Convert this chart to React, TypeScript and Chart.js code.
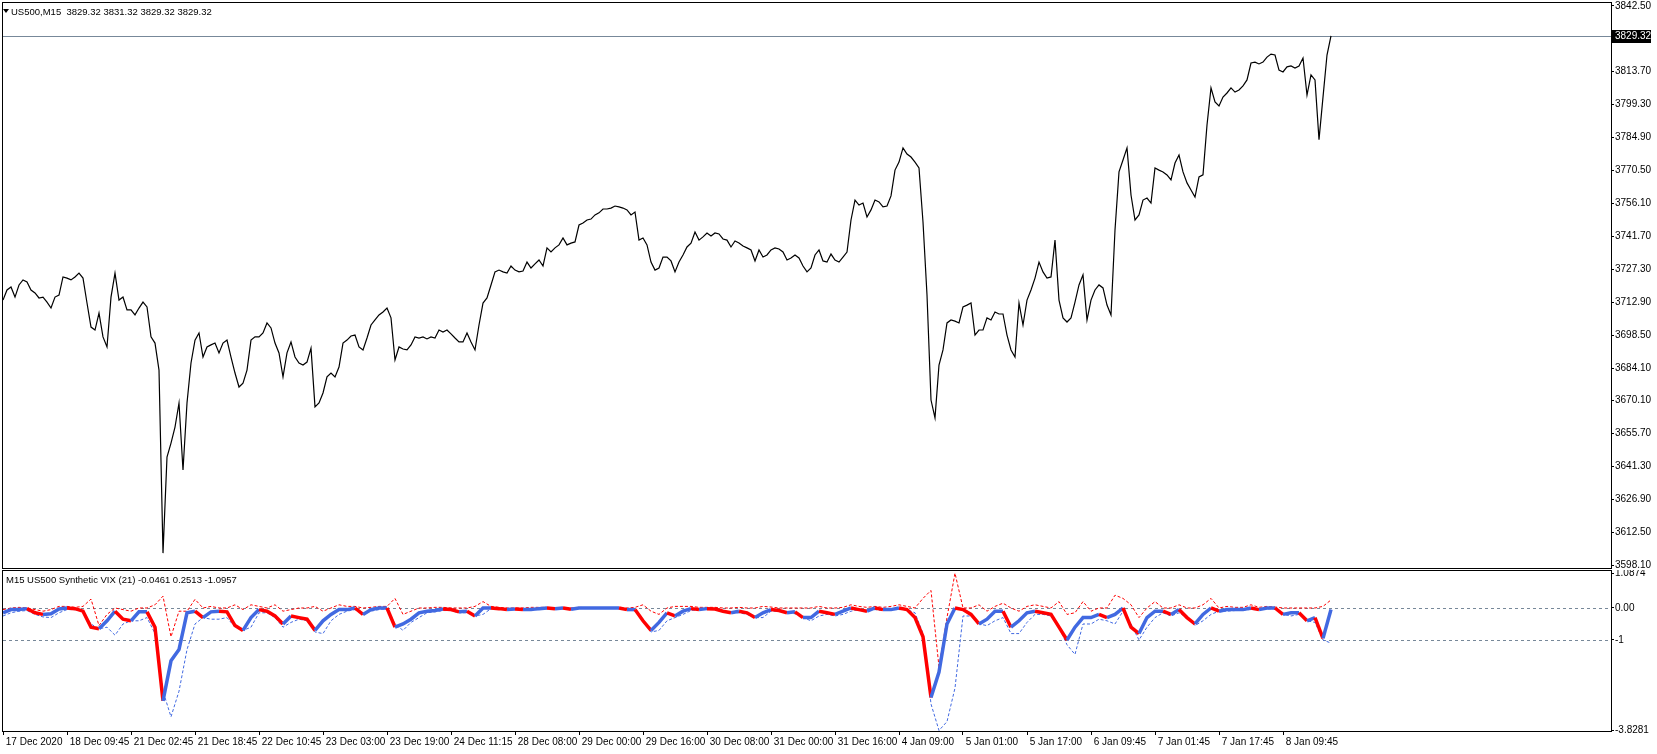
import React, { useEffect, useRef } from 'react';
import { Chart, registerables } from 'chart.js';

Chart.register(...registerables);

// ---------- data ----------
const PRICE_STEP = 4; // M15 bars between price samples
const PRICE: number[] = [
  3713.9, 3718.3, 3719.6, 3715.2, 3720.5, 3722.7, 3721.8, 3718.3, 3717.0, 3714.8,
  3715.2, 3713.0, 3710.4, 3715.2, 3716.1, 3724.0, 3723.5, 3722.7, 3724.0, 3725.7,
  3723.5, 3712.6, 3702.1, 3700.8, 3708.2, 3697.8, 3693.4, 3715.2, 3725.7, 3713.9,
  3715.2, 3709.6, 3709.6, 3707.4, 3710.4, 3713.0, 3710.9, 3697.8, 3695.1, 3683.3,
  3603.3, 3645.3, 3651.4, 3658.4, 3668.9, 3639.6, 3668.9, 3686.4, 3696.4, 3699.5,
  3689.0, 3693.4, 3694.3, 3695.1, 3690.8, 3695.1, 3696.4, 3689.0, 3682.0, 3675.9,
  3677.6, 3683.3, 3696.4, 3697.8, 3697.8, 3699.5, 3703.9, 3701.7, 3695.1, 3690.8,
  3680.3, 3690.8, 3695.6, 3689.0, 3686.4, 3685.5, 3686.8, 3692.9, 3667.2, 3668.9,
  3673.3, 3680.3, 3682.0, 3680.3, 3684.6, 3695.1, 3696.4, 3698.2, 3698.6, 3693.4,
  3692.1, 3697.3, 3703.0, 3705.2, 3707.4, 3708.7, 3710.4, 3706.1, 3687.7, 3693.4,
  3692.5, 3692.1, 3694.3, 3697.8, 3697.3, 3697.8, 3696.9, 3697.8, 3697.3, 3700.8,
  3699.9, 3700.8, 3699.1, 3697.3, 3695.6, 3695.6, 3699.5, 3695.6, 3692.1, 3703.0,
  3712.6, 3714.8, 3720.5, 3726.2, 3727.0, 3726.2, 3725.7, 3728.8, 3727.0, 3726.2,
  3726.6, 3730.5, 3727.9, 3729.7, 3731.4, 3728.8, 3736.7, 3734.9, 3736.7, 3738.0,
  3741.0, 3738.0, 3738.8, 3739.3, 3746.7, 3747.6, 3748.9, 3749.3, 3751.1, 3752.0,
  3753.7, 3753.7, 3754.1, 3755.0, 3754.6, 3754.1, 3753.3, 3751.1, 3752.4, 3740.1,
  3741.0, 3738.0, 3730.5, 3727.0, 3727.9, 3732.7, 3732.7, 3731.0, 3726.2, 3730.5,
  3733.6, 3737.1, 3738.8, 3743.6, 3740.1, 3741.5, 3743.2, 3741.9, 3743.2, 3742.8,
  3740.6, 3740.1, 3737.1, 3739.7, 3738.8, 3737.5, 3736.7, 3735.8, 3731.0, 3735.8,
  3732.7, 3733.6, 3735.8, 3736.7, 3736.2, 3734.9, 3731.4, 3732.3, 3733.6, 3732.3,
  3728.8, 3726.2, 3727.9, 3733.6, 3735.8, 3731.0, 3730.5, 3734.0, 3731.4, 3730.5,
  3732.7, 3734.9, 3748.9, 3757.6, 3755.4, 3756.3, 3750.2, 3753.3, 3757.6, 3756.8,
  3754.6, 3755.0, 3759.4, 3770.7, 3774.2, 3780.4, 3777.7, 3776.4, 3774.2, 3771.6,
  3748.0, 3716.1, 3670.2, 3662.4, 3685.5, 3692.1, 3703.9, 3705.2, 3704.7, 3703.9,
  3710.9, 3711.7, 3712.6, 3698.6, 3700.8, 3700.8, 3706.1, 3705.2, 3708.7, 3707.8,
  3707.8, 3698.6, 3692.1, 3689.0, 3712.6, 3703.0, 3713.9, 3718.3, 3723.5, 3730.5,
  3726.2, 3723.5, 3724.0, 3740.1, 3713.9, 3706.1, 3704.3, 3706.1, 3713.0, 3720.5,
  3724.9, 3705.2, 3713.9, 3718.3, 3720.5, 3719.2, 3711.7, 3707.4, 3744.5, 3769.9,
  3775.1, 3780.4, 3759.8, 3748.9, 3751.1, 3757.6, 3758.5, 3756.3, 3771.6, 3770.7,
  3769.9, 3768.6, 3766.4, 3773.8, 3777.3, 3769.9, 3765.1, 3762.0, 3758.9, 3767.7,
  3768.6, 3790.4, 3806.6, 3800.5, 3798.7, 3802.6, 3804.4, 3806.6, 3804.8, 3805.7,
  3807.5, 3810.1, 3817.5, 3817.9, 3817.1, 3817.9, 3820.1, 3821.4, 3821.0, 3814.4,
  3813.6, 3815.8, 3816.2, 3815.3, 3816.2, 3819.7, 3803.5, 3812.3, 3810.1, 3784.0,
  3802.6, 3821.0, 3829.32,
];

const VIX_STEP = 8; // M15 bars between indicator samples
const VIX_MAIN: number[] = [
  -0.15, -0.05, -0.05, -0.02, -0.15, -0.2, -0.18, -0.03, 0.0, -0.02,
  -0.1, -0.6, -0.65, -0.4, -0.1, -0.35, -0.4, -0.12, -0.12, -0.6,
  -2.9, -1.65, -1.3, -0.15, -0.1, -0.3, -0.12, -0.1, -0.12, -0.55,
  -0.7, -0.3, -0.05, -0.1, -0.25, -0.5, -0.25, -0.3, -0.35, -0.7,
  -0.4, -0.2, -0.05, -0.05, 0.0, -0.2, -0.05, 0.0, 0.0, -0.6,
  -0.5, -0.35, -0.15, -0.1, -0.08, -0.03, -0.05, -0.12, -0.1, -0.25,
  0.0, 0.0, -0.02, -0.05, -0.03, -0.05, -0.05, -0.02, 0.0, -0.02,
  0.0, -0.04, 0.0, 0.0, 0.0, 0.0, 0.0, 0.0, -0.05, -0.05,
  -0.4, -0.7, -0.45, -0.15, -0.25, -0.1, -0.02, -0.05, -0.02, -0.03,
  -0.1, -0.15, -0.1, -0.15, -0.3, -0.15, -0.05, -0.08, -0.15, -0.12,
  -0.3, -0.3, -0.1, -0.15, -0.2, -0.1, 0.0, -0.05, -0.1, 0.0,
  -0.05, -0.05, 0.0, -0.05, -0.3, -0.9, -2.8, -2.0, -0.5, 0.0,
  -0.05, -0.2, -0.5, -0.35, -0.1, -0.1, -0.6, -0.4, -0.15, -0.1,
  -0.15, -0.2, -0.6, -1.0, -0.6, -0.3, -0.3, -0.2, -0.3, -0.2,
  0.0, -0.6, -0.8, -0.3, -0.1, -0.1, -0.2, -0.05, -0.3, -0.5,
  -0.2, 0.0, -0.1, -0.05, -0.05, -0.05, 0.0, -0.05, 0.0, 0.0,
  -0.2, -0.15, -0.15, -0.4, -0.3, -0.95, -0.0461,
];
const VIX_UPPER: number[] = [
  -0.05, 0.0, 0.02, 0.0, -0.05, -0.1, -0.05, 0.05, 0.05, 0.02,
  0.05, 0.28, -0.55, -0.2, 0.0, -0.05, -0.1, 0.0, 0.0, 0.1,
  0.37, -0.9, -0.1, -0.1, 0.27, 0.0, 0.05, 0.0, 0.0, 0.1,
  -0.05, 0.1, 0.05, 0.0, 0.1, -0.1, -0.05, 0.0, 0.0, 0.05,
  -0.1, 0.0, 0.1, 0.05, 0.05, 0.0, 0.02, 0.05, 0.05, 0.3,
  -0.2, -0.1, 0.0, 0.0, 0.02, 0.02, 0.0, 0.0, 0.0, 0.05,
  0.2, 0.05, 0.02, 0.0, 0.0, 0.0, 0.02, 0.02, 0.02, 0.0,
  0.02, 0.0, 0.02, 0.01, 0.01, 0.0, 0.0, 0.0, 0.0, 0.02,
  0.1, -0.1, -0.2, 0.0, 0.05, 0.05, 0.05, 0.02, 0.02, 0.02,
  0.0, 0.0, 0.02, 0.0, 0.0, 0.05, 0.03, 0.0, 0.0, 0.0,
  0.0, 0.0, 0.05, 0.0, 0.0, 0.02, 0.1, 0.05, 0.02, 0.05,
  0.02, 0.05, 0.1, 0.05, 0.0, 0.3, 0.55, -1.85, -0.3, 1.0874,
  0.0, 0.0, 0.1, -0.1, 0.05, 0.15, 0.0, -0.1, 0.05, 0.1,
  0.05, 0.0, 0.2, -0.2, -0.15, 0.2, -0.1, 0.0, 0.0, 0.4,
  0.3, 0.1, -0.3, 0.0, 0.2, 0.0, 0.0, 0.1, 0.0, 0.0,
  0.1, 0.3, 0.0, 0.05, 0.02, 0.02, 0.1, 0.02, 0.05, 0.03,
  0.0, 0.0, 0.0, 0.0, 0.0, 0.05, 0.2513,
];
const VIX_LOWER: number[] = [
  -0.25, -0.15, -0.1, -0.08, -0.2, -0.28, -0.3, -0.15, -0.05, -0.05,
  -0.1, -0.5, -0.65, -0.6, -0.85, -0.5, -0.4, -0.4, -0.3, -0.8,
  -2.6, -3.4, -2.6, -1.3, -0.5, -0.3, -0.35, -0.35, -0.3, -0.6,
  -0.7, -0.6, -0.15, -0.15, -0.3, -0.6, -0.45, -0.35, -0.4, -0.75,
  -0.8, -0.4, -0.2, -0.1, -0.05, -0.2, -0.1, -0.05, -0.02, -0.5,
  -0.7, -0.45, -0.3, -0.15, -0.12, -0.08, -0.08, -0.15, -0.15, -0.25,
  -0.2, -0.02, -0.02, -0.05, -0.05, -0.05, -0.06, -0.05, -0.02, -0.02,
  -0.02, -0.04, -0.02, -0.01, -0.01, -0.01, -0.01, -0.01, -0.05, -0.06,
  -0.35, -0.75, -0.7, -0.4, -0.3, -0.2, -0.08, -0.05, -0.04, -0.04,
  -0.1, -0.15, -0.15, -0.2, -0.3, -0.3, -0.1, -0.1, -0.15, -0.18,
  -0.3, -0.4, -0.25, -0.2, -0.25, -0.2, -0.1, -0.05, -0.1, -0.05,
  -0.08, -0.05, -0.05, -0.05, -0.15, -0.8, -3.0, -3.8281, -3.55, -2.5,
  -0.25, -0.25, -0.5, -0.55, -0.4, -0.3, -0.8, -0.8, -0.45, -0.2,
  -0.2, -0.25, -0.6, -1.15, -1.45, -0.5, -0.5, -0.35, -0.4, -0.5,
  -0.1, -0.5, -1.0, -0.6, -0.3, -0.15, -0.25, -0.15, -0.3, -0.55,
  -0.4, -0.2, -0.1, -0.1, -0.08, -0.06, -0.05, -0.05, -0.03, -0.02,
  -0.2, -0.25, -0.2, -0.4, -0.45, -1.0, -1.0957,
];

const TIME_LABEL_STEP = 64; // bars between time labels
const TIME_LABELS: string[] = [
  '17 Dec 2020', '18 Dec 09:45', '21 Dec 02:45', '21 Dec 18:45', '22 Dec 10:45',
  '23 Dec 03:00', '23 Dec 19:00', '24 Dec 11:15', '28 Dec 08:00', '29 Dec 00:00',
  '29 Dec 16:00', '30 Dec 08:00', '31 Dec 00:00', '31 Dec 16:00', '4 Jan 09:00',
  '5 Jan 01:00', '5 Jan 17:00', '6 Jan 09:45', '7 Jan 01:45', '7 Jan 17:45',
  '8 Jan 09:45',
];
const PRICE_TICKS: number[] = [
  3598.10, 3612.50, 3626.90, 3641.30, 3655.70, 3670.10, 3684.10, 3698.50, 3712.90,
  3727.30, 3741.70, 3756.10, 3770.50, 3784.90, 3799.30, 3813.70, 3842.50,
];
const VIX_TICKS: number[] = [1.0874, 0, -1, -3.8281];
const VIX_TICK_LABELS: string[] = ['1.0874', '0.00', '-1', '-3.8281'];
const VIX_LEVELS: number[] = [0, -1];
const LAST_PRICE = 3829.32;
const TITLE_MAIN = 'US500,M15  3829.32 3831.32 3829.32 3829.32';
const TITLE_VIX = 'M15 US500 Synthetic VIX (21) -0.0461 0.2513 -1.0957';

// ---------- style ----------
const FONT_FAMILY = "'Liberation Sans', Arial, sans-serif";
const FONT = `10px ${FONT_FAMILY}`;
const TITLE_FONT = `9.5px ${FONT_FAMILY}`;
const RED = '#ff0000';
const BLUE = '#4169e1';
const GRIDGRAY = '#778899';
const BARS_VISIBLE = 1608;

function frame(ctx: CanvasRenderingContext2D, a: any) {
  ctx.save();
  ctx.strokeStyle = '#000';
  ctx.lineWidth = 1;
  ctx.strokeRect(a.left - 0.5, a.top - 0.5, a.right - a.left + 1, a.bottom - a.top + 1);
  ctx.restore();
}

const mainDecor = {
  id: 'mainDecor',
  beforeDatasetsDraw(chart: any) {
    const { ctx, chartArea: a, scales } = chart;
    const y = Math.round(scales.y.getPixelForValue(LAST_PRICE)) + 0.5;
    ctx.save();
    ctx.strokeStyle = GRIDGRAY;
    ctx.lineWidth = 1;
    ctx.beginPath();
    ctx.moveTo(a.left, y);
    ctx.lineTo(a.right, y);
    ctx.stroke();
    ctx.restore();
  },
  afterDraw(chart: any) {
    const { ctx, chartArea: a, scales } = chart;
    frame(ctx, a);
    ctx.save();
    const y = Math.round(scales.y.getPixelForValue(LAST_PRICE));
    ctx.fillStyle = '#000';
    ctx.fillRect(a.right + 1, y - 6, 39, 13);
    ctx.fillStyle = '#fff';
    ctx.font = FONT;
    ctx.textBaseline = 'middle';
    ctx.textAlign = 'left';
    ctx.fillText(LAST_PRICE.toFixed(2), a.right + 4, y + 0.5);
    ctx.fillStyle = '#000';
    ctx.beginPath();
    ctx.moveTo(3, 9);
    ctx.lineTo(9, 9);
    ctx.lineTo(6, 13);
    ctx.closePath();
    ctx.fill();
    ctx.font = TITLE_FONT;
    ctx.fillText(TITLE_MAIN, 11, 12);
    ctx.restore();
  },
};

const vixDecor = {
  id: 'vixDecor',
  beforeDatasetsDraw(chart: any) {
    const { ctx, chartArea: a, scales } = chart;
    ctx.save();
    ctx.strokeStyle = GRIDGRAY;
    ctx.lineWidth = 1;
    ctx.setLineDash([3, 3]);
    VIX_LEVELS.forEach((lv) => {
      const y = Math.round(scales.y.getPixelForValue(lv)) + 0.5;
      ctx.beginPath();
      ctx.moveTo(a.left, y);
      ctx.lineTo(a.right, y);
      ctx.stroke();
    });
    ctx.restore();
  },
  afterDraw(chart: any) {
    const { ctx, chartArea: a } = chart;
    frame(ctx, a);
    ctx.save();
    ctx.fillStyle = '#000';
    ctx.font = TITLE_FONT;
    ctx.textBaseline = 'middle';
    ctx.textAlign = 'left';
    ctx.fillText(TITLE_VIX, 6, 10);
    ctx.restore();
  },
};

export default function App() {
  const mainRef = useRef<HTMLCanvasElement | null>(null);
  const vixRef = useRef<HTMLCanvasElement | null>(null);

  useEffect(() => {
    document.body.style.margin = '0';
    const tickFont = { family: FONT_FAMILY, size: 10 };

    const mainChart = new Chart(mainRef.current as HTMLCanvasElement, {
      type: 'line',
      data: {
        datasets: [
          {
            data: PRICE.map((v, i) => ({ x: i * PRICE_STEP, y: v })),
            borderColor: '#000',
            borderWidth: 1.2,
            pointRadius: 0,
            tension: 0,
            fill: false,
          },
        ],
      },
      options: {
        animation: false,
        responsive: false,
        devicePixelRatio: 1,
        events: [],
        layout: { padding: { left: 3, top: 3, right: 0, bottom: 2 } },
        plugins: { legend: { display: false }, tooltip: { enabled: false } },
        scales: {
          x: { type: 'linear', min: 0, max: BARS_VISIBLE, display: false },
          y: {
            position: 'right',
            min: 3596.79,
            max: 3843.73,
            afterFit: (s: any) => {
              s.width = 46;
              s.paddingTop = 0;
              s.paddingBottom = 0;
            },
            afterBuildTicks: (s: any) => {
              s.ticks = PRICE_TICKS.map((v) => ({ value: v }));
            },
            ticks: {
              callback: (v: any) => Number(v).toFixed(2),
              font: tickFont,
              color: '#000',
              padding: 1,
              autoSkip: false,
            },
            grid: { drawOnChartArea: false, tickLength: 3, color: '#000' },
            border: { display: false },
          },
        },
      } as any,
      plugins: [mainDecor],
    });

    const seg = (c: any) => (c.p1.parsed.y < c.p0.parsed.y ? RED : BLUE);

    const vixChart = new Chart(vixRef.current as HTMLCanvasElement, {
      type: 'line',
      data: {
        datasets: [
          {
            data: VIX_MAIN.map((v, i) => ({ x: i * VIX_STEP, y: v })),
            borderColor: BLUE,
            borderWidth: 3.5,
            pointRadius: 0,
            tension: 0,
            segment: { borderColor: seg },
          },
          {
            data: VIX_UPPER.map((v, i) => ({ x: i * VIX_STEP, y: v })),
            borderColor: RED,
            borderWidth: 1,
            borderDash: [3, 2],
            pointRadius: 0,
            tension: 0,
          },
          {
            data: VIX_LOWER.map((v, i) => ({ x: i * VIX_STEP, y: v })),
            borderColor: BLUE,
            borderWidth: 1,
            borderDash: [3, 2],
            pointRadius: 0,
            tension: 0,
          },
        ],
      },
      options: {
        animation: false,
        responsive: false,
        devicePixelRatio: 1,
        events: [],
        layout: { padding: { left: 3, top: 1, right: 0, bottom: 0 } },
        plugins: { legend: { display: false }, tooltip: { enabled: false } },
        scales: {
          x: {
            type: 'linear',
            min: 0,
            max: BARS_VISIBLE,
            position: 'bottom',
            afterFit: (s: any) => {
              s.height = 23;
              s.paddingLeft = 0;
              s.paddingRight = 0;
            },
            afterBuildTicks: (s: any) => {
              s.ticks = TIME_LABELS.map((_, i) => ({ value: i * TIME_LABEL_STEP }));
            },
            ticks: {
              callback: (_v: any, i: number) => ' ' + TIME_LABELS[i],
              align: 'start',
              maxRotation: 0,
              minRotation: 0,
              autoSkip: false,
              font: tickFont,
              color: '#000',
              padding: 1,
            },
            grid: { drawOnChartArea: false, tickLength: 4, color: '#000' },
            border: { display: false },
          },
          y: {
            position: 'right',
            min: -3.844,
            max: 1.156,
            afterFit: (s: any) => {
              s.width = 46;
              s.paddingTop = 0;
              s.paddingBottom = 0;
            },
            afterBuildTicks: (s: any) => {
              s.ticks = VIX_TICKS.map((v) => ({ value: v }));
            },
            ticks: {
              callback: (_v: any, i: number) => VIX_TICK_LABELS[i],
              font: tickFont,
              color: '#000',
              padding: 1,
              autoSkip: false,
            },
            grid: { drawOnChartArea: false, tickLength: 3, color: '#000' },
            border: { display: false },
          },
        },
      } as any,
      plugins: [vixDecor],
    });

    return () => {
      mainChart.destroy();
      vixChart.destroy();
    };
  }, []);

  return (
    <div style={{ position: 'fixed', left: 0, top: 0, width: 1657, height: 754, background: '#fff' }}>
      <canvas ref={mainRef} width={1657} height={570} style={{ position: 'absolute', left: 0, top: 0 }} />
      <canvas ref={vixRef} width={1657} height={184} style={{ position: 'absolute', left: 0, top: 570 }} />
    </div>
  );
}
